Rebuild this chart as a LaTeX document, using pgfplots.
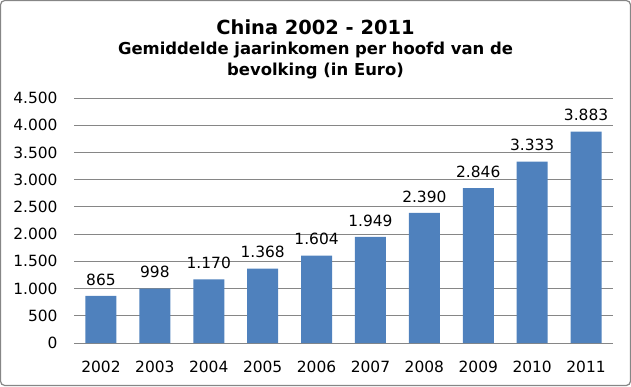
\documentclass[border=0pt]{standalone}
\usepackage{pgfplots}
\pgfplotsset{compat=1.18}
\usepackage{fontspec}
\setmainfont{DejaVu Sans}
\definecolor{barblue}{HTML}{4F81BD}
\definecolor{gridgray}{HTML}{868686}
\begin{document}
\begin{tikzpicture}[x=1bp,y=1bp]
\draw[gridgray, line width=1.2bp, rounded corners=4bp] (0.6,0.6) rectangle (630.4,385.4);
\node[font=\fontsize{19.5}{22}\selectfont\bfseries] at (315.5,359) {China 2002 - 2011};
\node[font=\fontsize{16.5}{22}\selectfont\bfseries, align=center] at (315.5,325.5) {Gemiddelde jaarinkomen per hoofd van de\\bevolking (in Euro)};
\begin{axis}[
  at={(74bp,43bp)}, anchor=south west,
  scale only axis, width=539bp, height=245bp,
  ybar, bar width=31bp,
  xmin=-0.5, xmax=9.5, ymin=0, ymax=4500,
  ytick={0,500,...,4500},
  xtick={0,...,9},
  xticklabels={2002,2003,2004,2005,2006,2007,2008,2009,2010,2011},
  axis x line*=bottom, axis y line*=left,
  y axis line style={draw=none},
  x axis line style={gridgray, line width=1bp},
  ymajorgrids, grid style={gridgray, line width=1bp},
  major tick length=0pt,
  tick label style={font=\fontsize{15.5}{18}\selectfont},
  yticklabel style={xshift=-13bp},
  xticklabel style={yshift=-15bp},
  /pgf/number format/.cd, 1000 sep={.}, assume math mode=true,
  /pgfplots/.cd,
  nodes near coords,
  nodes near coords style={font=\fontsize{15.5}{18}\selectfont, yshift=7bp},
  clip=false,
]
\addplot[fill=barblue, draw=none] coordinates {
(0,865) (1,998) (2,1170) (3,1368) (4,1604) (5,1949) (6,2390) (7,2846) (8,3333) (9,3883)};
\end{axis}
\end{tikzpicture}
\end{document}
